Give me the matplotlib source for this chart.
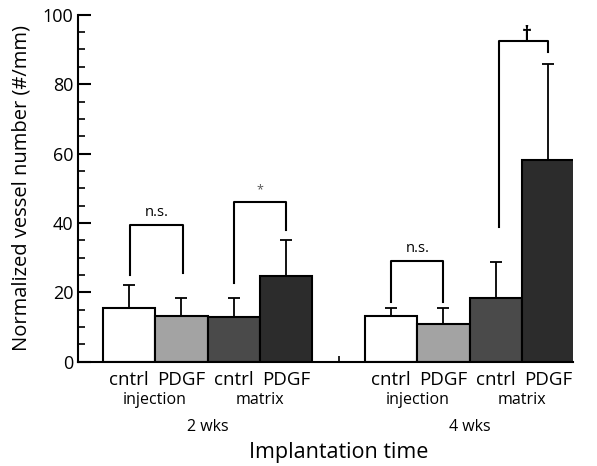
import matplotlib
matplotlib.use("Agg")
import matplotlib.pyplot as plt
from matplotlib.ticker import MultipleLocator

plt.rcParams['font.family'] = ['Open Sans', 'DejaVu Sans']

# Data
positions = [0, 1, 2, 3, 5, 6, 7, 8]
values = [15.5, 13.3, 12.8, 24.8, 13.2, 10.9, 18.3, 58.2]
err_upper = [6.6, 5.0, 5.5, 10.3, 2.4, 4.7, 10.3, 27.5]
bar_colors = ['#ffffff', '#a3a3a3', '#4a4a4a', '#2c2c2c',
              '#ffffff', '#a3a3a3', '#4a4a4a', '#2c2c2c']
bar_labels = ['cntrl', 'PDGF', 'cntrl', 'PDGF', 'cntrl', 'PDGF', 'cntrl', 'PDGF']
method_labels = ['injection', 'matrix', 'injection', 'matrix']
method_pos = [0.5, 2.5, 5.5, 7.5]
time_labels = ['2 wks', '4 wks']
time_pos = [1.5, 6.5]

# brackets: (x_left, x_right, y_top, y_left_end, y_right_end, label)
brackets = [
    (0.03, 1.03, 39.4, 25.0, 25.5, 'n.s.'),
    (2.0, 3.0, 46.1, 22.6, 38.0, '*'),
    (5.0, 6.0, 29.1, 17.3, 17.3, 'n.s.'),
    (7.05, 8.0, 92.4, 38.9, 89.3, '\u2020'),
]

fig = plt.figure(figsize=(5.97, 4.66), dpi=100)
ax = fig.add_axes([0.1307, 0.2238, 0.8291, 0.7445])

ax.bar(positions, values, width=1.0, color=bar_colors, edgecolor='black',
       linewidth=1.5, zorder=2)
ax.errorbar(positions, values, yerr=[[0] * len(values), err_upper], fmt='none',
            ecolor='black', elinewidth=1.3, capsize=4, capthick=1.3, zorder=3)

for xl, xr, yt, yle, yre, lab in brackets:
    ax.plot([xl, xl, xr, xr], [yle, yt, yt, yre], color='black', lw=1.5,
            zorder=4, clip_on=False)
    if lab == '\u2020':
        ax.text((xl + xr) / 2 + 0.06, yt - 1, lab, ha='center', va='bottom',
                fontsize=14, fontweight='bold')
    elif lab == '*':
        ax.text((xl + xr) / 2, yt + 1.5, lab, ha='center', va='bottom',
                fontsize=9, color='#555555')
    else:
        ax.text((xl + xr) / 2, yt + 1.5, lab, ha='center', va='bottom',
                fontsize=10.5)

ax.set_xlim(-0.97, 8.47)
ax.set_ylim(0, 100)
ax.spines['top'].set_visible(False)
ax.spines['right'].set_visible(False)
ax.spines['left'].set_linewidth(1.5)
ax.spines['bottom'].set_linewidth(1.5)

ax.yaxis.set_major_locator(MultipleLocator(20))
ax.yaxis.set_minor_locator(MultipleLocator(5))
ax.tick_params(axis='y', which='major', direction='in', length=9, width=1.5,
               labelsize=13)
ax.tick_params(axis='y', which='minor', direction='in', length=5, width=1.2)
ax.set_xticks(range(0, 9))
ax.set_xticklabels([])
ax.tick_params(axis='x', direction='in', length=4, width=1.2)

ax.set_ylabel('Normalized vessel number (#/mm)', fontsize=14.5, labelpad=8)

trans = ax.get_xaxis_transform()
for p, lab in zip(positions, bar_labels):
    ax.text(p, -0.053, lab, transform=trans, ha='center', va='center', fontsize=13.5)
for p, lab in zip(method_pos, method_labels):
    ax.text(p, -0.11, lab, transform=trans, ha='center', va='center', fontsize=11.5)
for p, lab in zip(time_pos, time_labels):
    ax.text(p, -0.188, lab, transform=trans, ha='center', va='center', fontsize=11.5)
ax.text(4, -0.262, 'Implantation time', transform=trans, ha='center',
        va='center', fontsize=15.5)

fig.savefig('out.png', dpi=100)
